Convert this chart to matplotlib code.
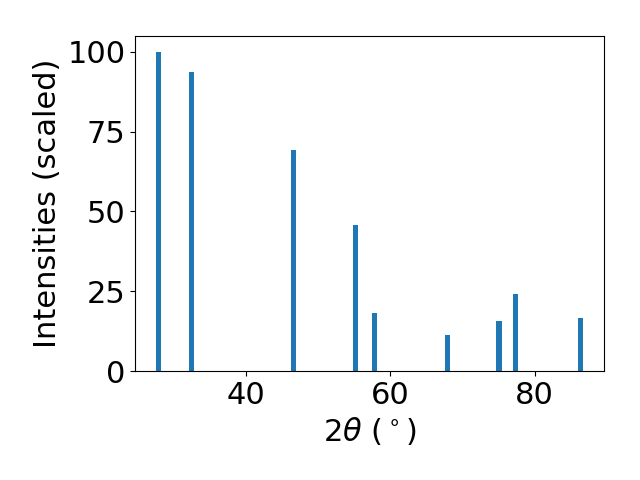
import numpy as np
import matplotlib
matplotlib.use("Agg")
import matplotlib.pyplot as plt

# peak positions (2theta, degrees) and scaled intensities
two_theta = [27.94, 32.45, 46.54, 55.16, 57.84, 67.96, 75.05, 77.27, 86.31]
intensities = [100.0, 93.7, 69.3, 45.8, 18.2, 11.3, 15.7, 24.1, 16.6]

plt.rcParams["font.size"] = 22

fig, ax = plt.subplots(figsize=(6.4, 4.8), dpi=100)
ax.bar(two_theta, intensities, width=0.7, color="#1f77b4")
ax.set_xlabel(r"$2\theta$ ($^\circ$)")
ax.set_ylabel("Intensities (scaled)")
ax.set_yticks([0, 25, 50, 75, 100])
fig.subplots_adjust(left=0.211, right=0.944, top=0.925, bottom=0.227)
fig.savefig("out.png")
